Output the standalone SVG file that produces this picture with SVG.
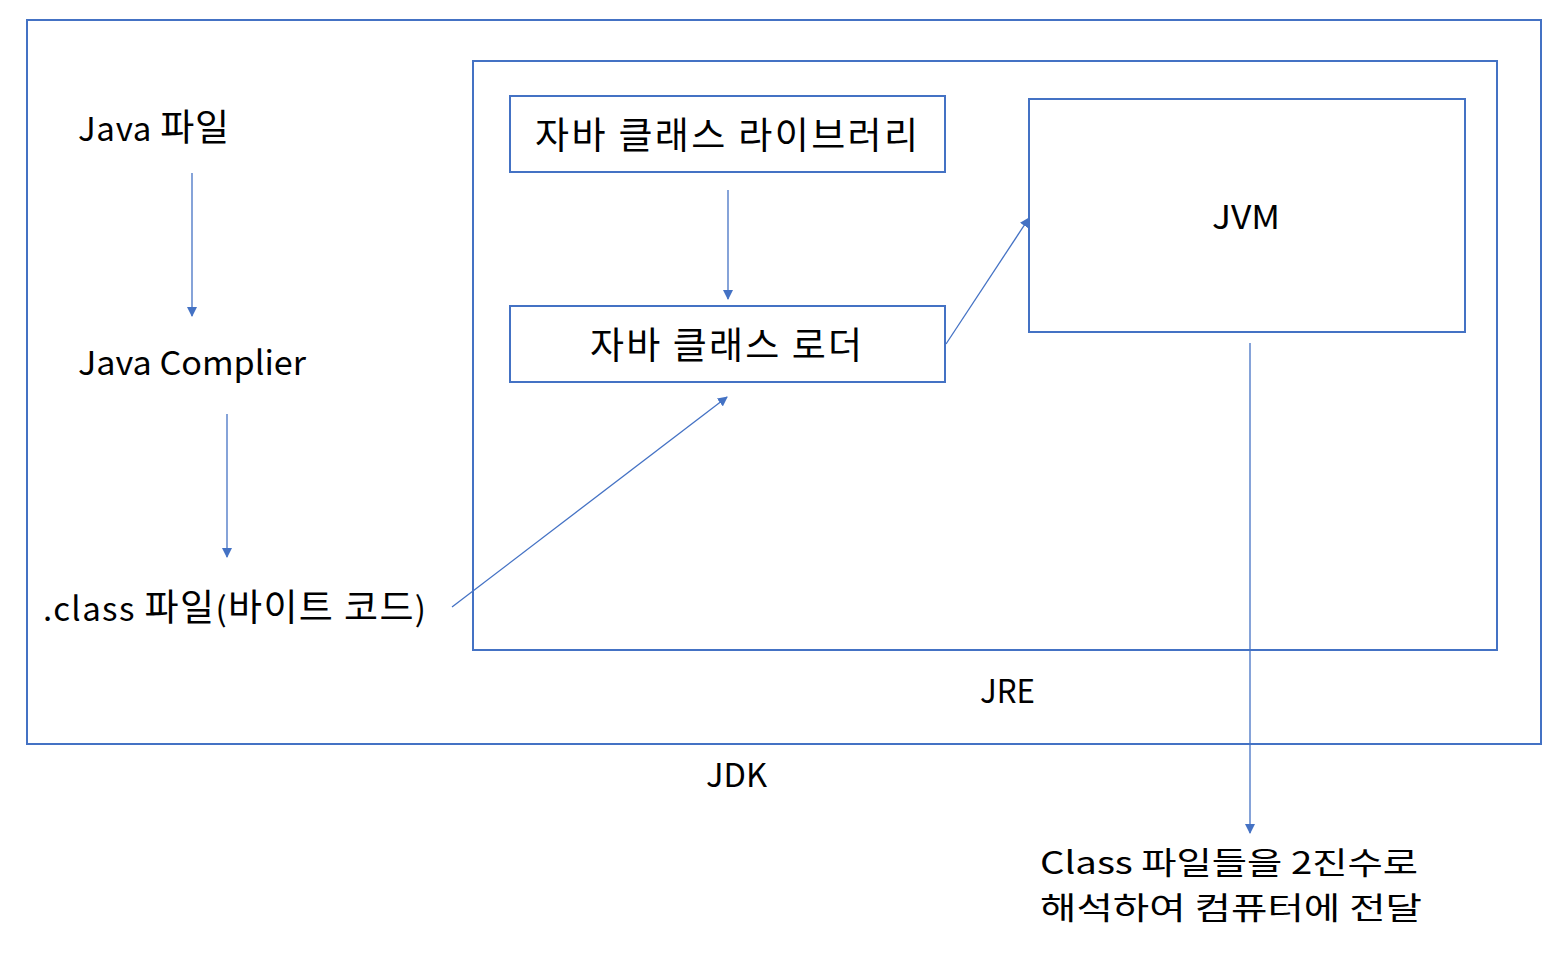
<svg xmlns="http://www.w3.org/2000/svg" width="1561" height="956" viewBox="0 0 1561 956">
<style>
.box{fill:none;stroke:#4472C4;stroke-width:2}
.ln{fill:none;stroke:#4472C4;stroke-width:1.3}
text{font-family:"Noto Sans CJK KR","Noto Sans",sans-serif;font-size:33px;fill:#000}
.k{font-size:37px}
.b{font-size:31px}
</style>
<defs>
<marker id="ah" markerWidth="10" markerHeight="10" refX="9" refY="5" orient="auto" markerUnits="userSpaceOnUse">
<path d="M0,0 L10,5 L0,10 Z" fill="#4472C4"/>
</marker>
</defs>
<rect width="1561" height="956" fill="#fff"/>
<g id="jdk"><rect class="box" x="27" y="20" width="1514" height="724"/><text x="706" y="787" textLength="61" lengthAdjust="spacingAndGlyphs">JDK</text></g>
<g id="jre"><rect class="box" x="473" y="61" width="1024" height="589"/><text x="980" y="703" textLength="55" lengthAdjust="spacingAndGlyphs">JRE</text></g>
<g id="java-file"><text x="78" y="141" textLength="151" lengthAdjust="spacing">Java <tspan class="k">파일</tspan></text></g>
<g id="compiler"><text x="78" y="375" textLength="228" lengthAdjust="spacingAndGlyphs">Java Complier</text></g>
<g id="class-file"><text x="43" y="621" textLength="383" lengthAdjust="spacing">.class <tspan class="k">파일</tspan>(<tspan class="k">바이트 코드</tspan>)</text></g>
<g id="library"><rect class="box" x="510" y="96" width="435" height="76"/><text x="535" y="149" class="k" textLength="383" lengthAdjust="spacing">자바 클래스 라이브러리</text></g>
<g id="loader"><rect class="box" x="510" y="306" width="435" height="76"/><text x="590" y="359" class="k" textLength="272" lengthAdjust="spacing">자바 클래스 로더</text></g>
<g id="jvm"><rect class="box" x="1029" y="99" width="436" height="233"/><text x="1212" y="229" textLength="68" lengthAdjust="spacingAndGlyphs">JVM</text></g>
<g id="output"><text x="1040" y="874" class="b" textLength="378" lengthAdjust="spacingAndGlyphs">Class 파일들을 2진수로</text><text x="1040" y="919" class="b" textLength="382" lengthAdjust="spacingAndGlyphs">해석하여 컴퓨터에 전달</text></g>
<g id="connectors">
<line class="ln" x1="192" y1="173" x2="192" y2="316" marker-end="url(#ah)"/>
<line class="ln" x1="227" y1="414" x2="227" y2="557" marker-end="url(#ah)"/>
<line class="ln" x1="452" y1="607" x2="727" y2="397" marker-end="url(#ah)"/>
<line class="ln" x1="728" y1="190" x2="728" y2="299" marker-end="url(#ah)"/>
<line class="ln" x1="946" y1="344" x2="1029" y2="218" marker-end="url(#ah)"/>
<line class="ln" x1="1250" y1="343" x2="1250" y2="833" marker-end="url(#ah)"/>
</g>
</svg>
